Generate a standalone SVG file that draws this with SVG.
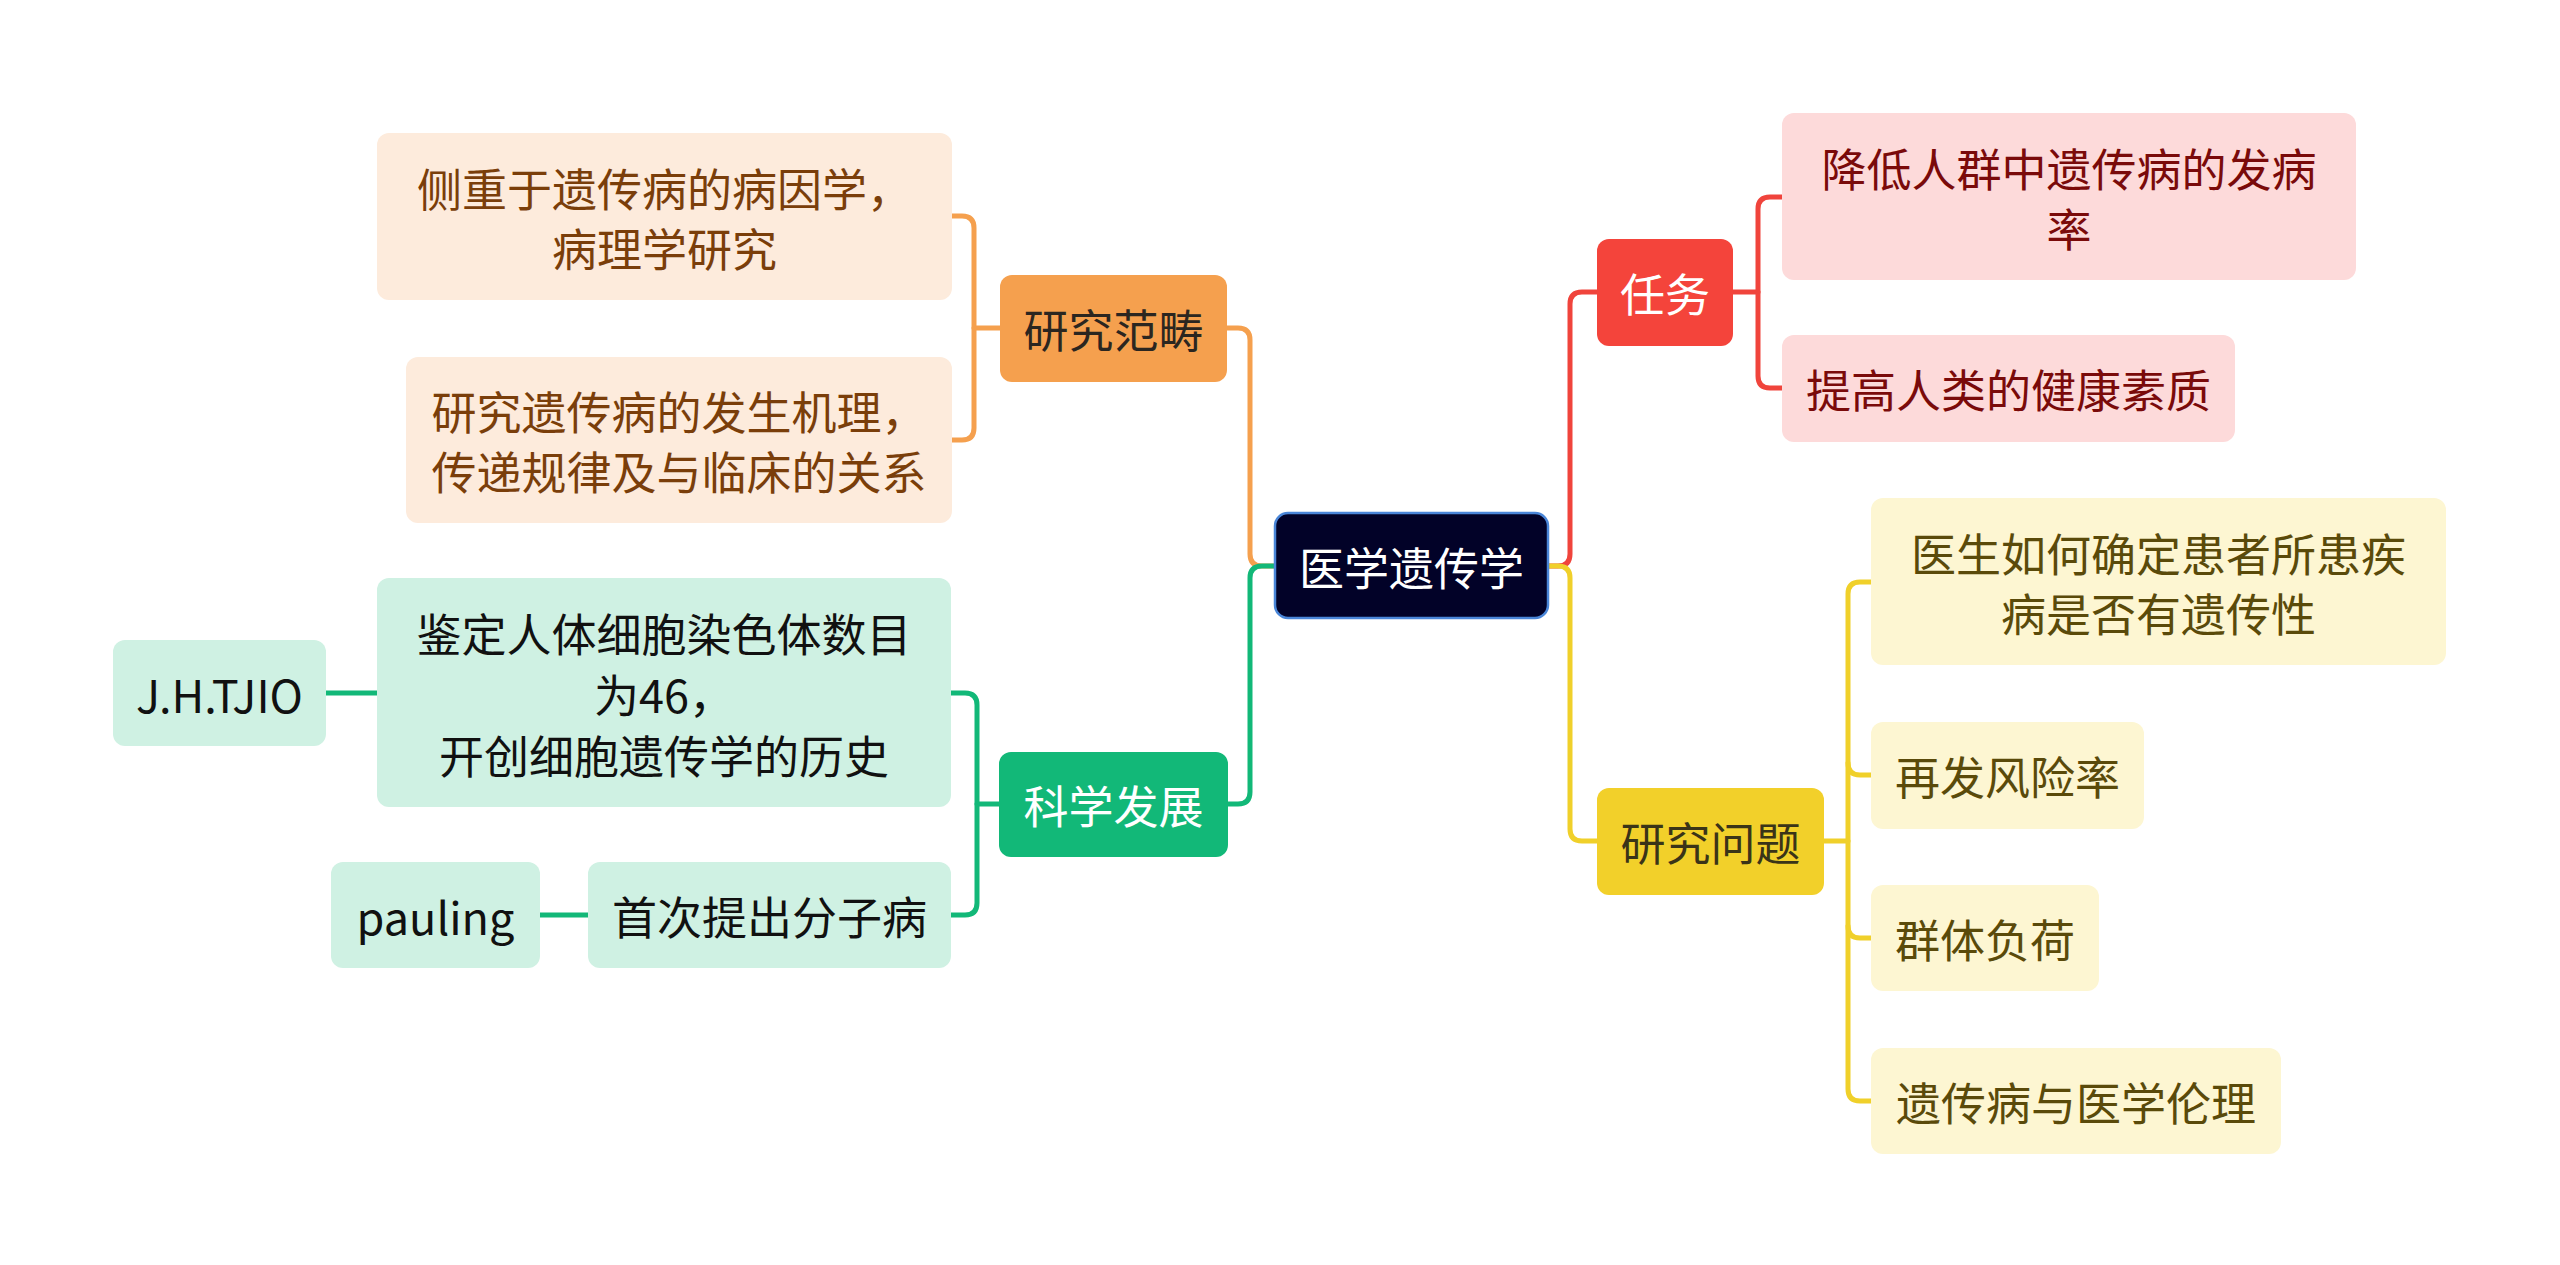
<svg xmlns="http://www.w3.org/2000/svg" width="2560" height="1265" viewBox="0 0 2560 1265">
<style>
text{font-family:"Noto Sans CJK SC","Noto Sans",sans-serif;font-size:45px;text-anchor:middle;dominant-baseline:central}
.c{fill:none;stroke-width:5;stroke-linecap:round;stroke-linejoin:round}
.co{stroke:#F5A04E}.cg{stroke:#12B878}.cr{stroke:#F0443C}.cy{stroke:#F0D02A}
.lo{fill:#FDEBDC}.to{fill:#7A3E0A}
.lg{fill:#CFF1E3}.tg{fill:#111111}
.lr{fill:#FDDADA}.tr{fill:#7A0A0A}
.ly{fill:#FDF6D2}.ty{fill:#5A4A0A}
</style>
<rect width="2560" height="1265" fill="#FFFFFF"/>
<g id="connectors">
<path class="c co" d="M1275,566 H1262 Q1250,566 1250,554 V340 Q1250,328 1238,328 H1227"/>
<path class="c cg" d="M1275,566 H1262 Q1250,566 1250,578 V792 Q1250,804 1238,804 H1228"/>
<path class="c cr" d="M1548,566 H1558 Q1570,566 1570,554 V304 Q1570,292 1582,292 H1597"/>
<path class="c cy" d="M1548,566 H1558 Q1570,566 1570,578 V829 Q1570,841 1582,841 H1597"/>
<path class="c co" d="M1000,328 H974"/>
<path class="c co" d="M952,216 H962 Q974,216 974,228 V428 Q974,440 962,440 H952"/>
<path class="c cg" d="M999,804 H977"/>
<path class="c cg" d="M951,693 H965 Q977,693 977,705 V903 Q977,915 965,915 H951"/>
<path class="c cg" d="M326,693 H377"/>
<path class="c cg" d="M540,915 H588"/>
<path class="c cr" d="M1733,292 H1758"/>
<path class="c cr" d="M1782,197 H1770 Q1758,197 1758,209 V376 Q1758,388 1770,388 H1782"/>
<path class="c cy" d="M1824,841 H1848"/>
<path class="c cy" d="M1871,582 H1860 Q1848,582 1848,594 V1089 Q1848,1101 1860,1101 H1871"/>
<path class="c cy" d="M1848,763 Q1848,775 1860,775 H1871"/>
<path class="c cy" d="M1848,926 Q1848,938 1860,938 H1871"/>
</g>
<g id="root">
<rect x="1275" y="513" width="273" height="105" rx="13" fill="#020228" stroke="#4A86D8" stroke-width="2.5"/>
<text x="1411.5" y="566" fill="#FFFFFF">医学遗传学</text>
</g>
<g id="n-yjfc">
<rect x="1000" y="275" width="227" height="107" rx="12" fill="#F5A04E"/>
<text x="1113.5" y="328" fill="#2B2620">研究范畴</text>
</g>
<g id="n-yjfc-1">
<rect class="lo" x="377" y="133" width="575" height="167" rx="12"/>
<text class="to"><tspan x="664.5" y="187">侧重于遗传病的病因学，</tspan><tspan x="664.5" y="247">病理学研究</tspan></text>
</g>
<g id="n-yjfc-2">
<rect class="lo" x="406" y="357" width="546" height="166" rx="12"/>
<text class="to"><tspan x="679" y="410">研究遗传病的发生机理，</tspan><tspan x="679" y="470">传递规律及与临床的关系</tspan></text>
</g>
<g id="n-kxfz">
<rect x="999" y="752" width="229" height="105" rx="12" fill="#12B878"/>
<text x="1113.5" y="804" fill="#FFFFFF">科学发展</text>
</g>
<g id="n-kxfz-1">
<rect class="lg" x="377" y="578" width="574" height="229" rx="12"/>
<text class="tg"><tspan x="664" y="632">鉴定人体细胞染色体数目</tspan><tspan x="664" y="693">为46，</tspan><tspan x="664" y="754">开创细胞遗传学的历史</tspan></text>
</g>
<g id="n-jhtjio">
<rect class="lg" x="113" y="640" width="213" height="106" rx="12"/>
<text class="tg" x="219.5" y="693">J.H.TJIO</text>
</g>
<g id="n-kxfz-2">
<rect class="lg" x="588" y="862" width="363" height="106" rx="12"/>
<text class="tg" x="769.5" y="915">首次提出分子病</text>
</g>
<g id="n-pauling">
<rect class="lg" x="331" y="862" width="209" height="106" rx="12"/>
<text class="tg" x="435.5" y="915">pauling</text>
</g>
<g id="n-rw">
<rect x="1597" y="239" width="136" height="107" rx="12" fill="#F4443B"/>
<text x="1665" y="292" fill="#FFFFFF">任务</text>
</g>
<g id="n-rw-1">
<rect class="lr" x="1782" y="113" width="574" height="167" rx="12"/>
<text class="tr"><tspan x="2069" y="167">降低人群中遗传病的发病</tspan><tspan x="2069" y="227">率</tspan></text>
</g>
<g id="n-rw-2">
<rect class="lr" x="1782" y="335" width="453" height="107" rx="12"/>
<text class="tr" x="2008.5" y="388">提高人类的健康素质</text>
</g>
<g id="n-yjwt">
<rect x="1597" y="788" width="227" height="107" rx="12" fill="#F2D02A"/>
<text x="1710.5" y="841" fill="#3A3418">研究问题</text>
</g>
<g id="n-yjwt-1">
<rect class="ly" x="1871" y="498" width="575" height="167" rx="12"/>
<text class="ty"><tspan x="2158.5" y="552">医生如何确定患者所患疾</tspan><tspan x="2158.5" y="612">病是否有遗传性</tspan></text>
</g>
<g id="n-yjwt-2">
<rect class="ly" x="1871" y="722" width="273" height="107" rx="12"/>
<text class="ty" x="2007.5" y="775">再发风险率</text>
</g>
<g id="n-yjwt-3">
<rect class="ly" x="1871" y="885" width="228" height="106" rx="12"/>
<text class="ty" x="1985" y="938">群体负荷</text>
</g>
<g id="n-yjwt-4">
<rect class="ly" x="1871" y="1048" width="410" height="106" rx="12"/>
<text class="ty" x="2076" y="1101">遗传病与医学伦理</text>
</g>
</svg>
